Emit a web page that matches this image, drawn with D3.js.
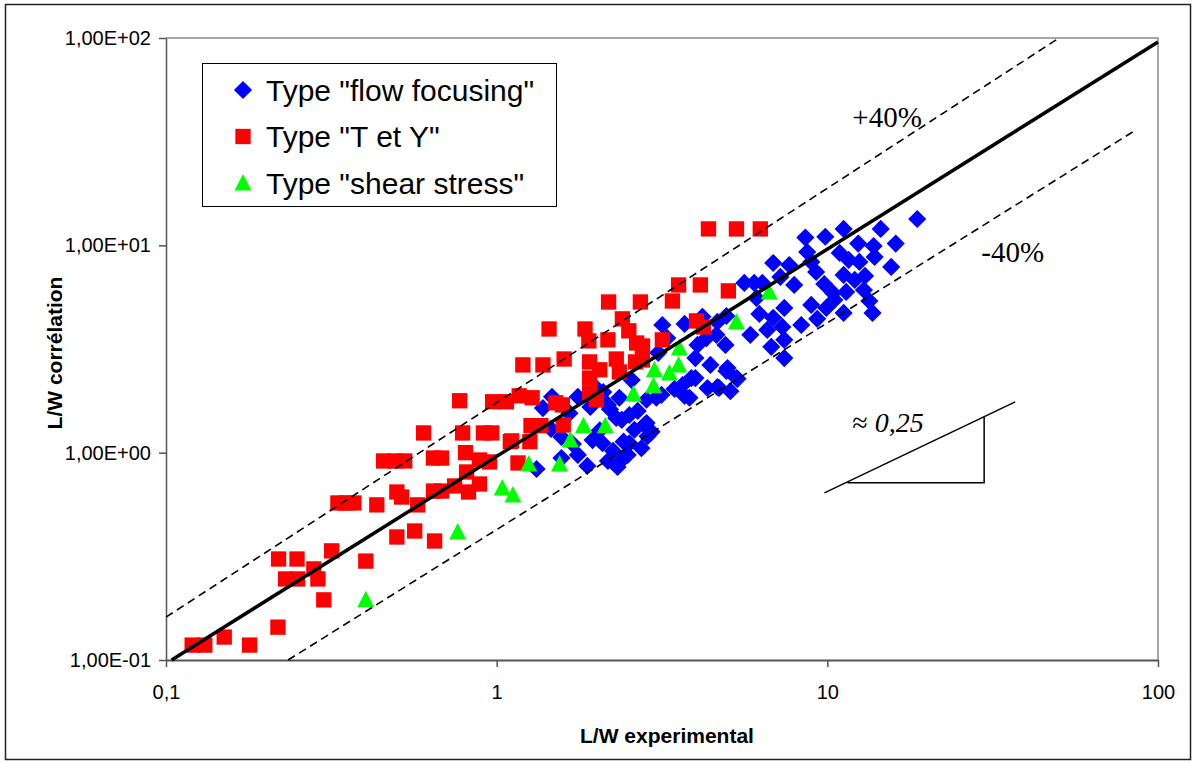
<!DOCTYPE html>
<html>
<head>
<meta charset="utf-8">
<script src="https://cdn.jsdelivr.net/npm/d3@7"></script>
<style>
  body { margin: 0; background: #fff; }
</style>
</head>
<body>
<div id="chart"></div>
<script>
// Data: [L/W experimental, L/W correlation]
const flowFocusing = [
  [18.7,13.4],[14.5,12.0],[11.2,12.0],[9.86,11.0],[8.58,10.9],[16.1,10.2],[13.8,9.93],[12.4,10.2],[13.9,8.79],[15.6,7.87],
  [10.9,9.19],[11.6,8.51],[12.5,8.32],[11.2,7.20],[12.1,6.81],[13.0,7.12],[8.69,9.29],[8.94,8.32],[7.67,8.04],[9.25,7.44],
  [7.94,6.44],[9.79,6.51],[10.4,5.89],[11.4,5.96],[12.9,6.09],[13.4,5.39],[13.7,4.72],[11.2,4.72],[9.93,4.99],[8.94,5.16],
  [9.32,4.42],[8.34,4.13],[7.41,4.99],[10.5,5.45],[6.86,8.22],[7.21,7.04],[5.61,6.59],[6.01,6.59],[6.36,6.59],[6.10,5.57],
  [6.23,4.67],[6.86,4.47],[7.31,4.04],[6.58,3.91],[5.85,3.70],[4.95,4.56],[4.65,4.27],[4.19,4.52],[3.70,4.18],[3.17,4.13],
  [3.28,3.57],[4.62,3.70],[4.31,3.57],[4.92,3.31],[4.05,3.31],[3.99,2.86],[4.43,2.65],[4.99,2.56],[5.31,2.29],[6.77,3.24],
  [7.41,3.50],[7.41,2.86],[3.99,2.29],[4.34,2.05],[4.71,2.05],[5.09,1.98],[3.65,2.12],[3.70,1.88],[3.15,1.90],[2.84,1.80],
  [1.47,1.86],[1.76,1.86],[1.92,1.66],[2.17,1.70],[2.30,1.47],[2.35,1.84],[2.67,1.59],[2.80,1.36],[1.46,1.30],[1.57,1.19],
  [1.95,1.15],[2.09,1.11],[2.42,1.13],[2.49,0.975],[2.74,1.05],[1.76,0.975],[1.57,0.942],[1.88,0.863],[1.32,0.834],[2.17,0.912],
  [2.32,0.853],[3.08,3.03],[2.10,1.96],[2.56,2.24],[2.94,1.26],[4.95,2.48],[5.35,2.27],[3.88,2.29],[4.65,2.07],[3.83,1.84],
  [3.45,2.03],[3.04,1.84],[2.52,1.52],[2.61,1.29],[2.84,1.39],[2.86,1.20],[2.52,1.11],[2.39,0.922],[2.39,1.44],[1.38,1.64],
  [2.00,2.05],[2.20,1.62],[1.66,1.55],[2.05,1.28],[2.25,1.02],[1.70,1.10]
];

const tEtY = [
  [0.120,0.118],[0.131,0.118],[0.150,0.129],[0.179,0.118],[0.218,0.144],[0.219,0.307],[0.249,0.307],[0.230,0.246],
  [0.250,0.246],[0.280,0.275],[0.288,0.246],[0.300,0.195],[0.317,0.336],[0.601,1.245],[0.789,1.245],[0.912,1.245],
  [0.966,1.245],[1.11,1.14],[0.455,0.912],[0.492,0.912],[0.527,0.912],[0.644,0.942],[0.681,0.942],[0.805,1.0],
  [0.887,0.922],[0.951,0.902],[0.811,0.807],[0.331,0.572],[0.350,0.572],[0.370,0.572],[0.434,0.560],[0.499,0.646],
  [0.516,0.611],[0.577,0.560],[0.644,0.653],[0.681,0.653],[0.746,0.691],[0.822,0.646],[0.887,0.706],[0.499,0.392],
  [0.565,0.419],[0.649,0.375],[0.402,0.300],[0.773,1.78],[0.972,1.76],[1.07,1.76],[1.17,1.88],[1.28,1.84],
  [1.51,1.74],[1.58,1.70],[1.27,1.35],[1.36,1.35],[1.59,1.36],[1.10,1.13],[1.26,1.13],[1.16,0.892],
  [1.91,2.29],[1.91,1.94],[2.00,1.80],[2.18,5.33],[2.72,5.33],[1.44,3.95],[1.85,3.95],[2.40,4.42],
  [1.90,3.46],[2.17,3.50],[2.51,3.87],[2.65,3.38],[1.20,2.65],[1.38,2.65],[1.60,2.83],[1.91,2.74],
  [2.30,2.83],[2.63,2.74],[2.05,2.51],[2.35,2.45],[4.37,12.0],[5.31,12.0],[6.27,12.0],[3.55,6.44],
  [4.13,6.44],[5.02,6.03],[3.40,5.39],[4.02,4.32],[3.17,3.50],[2.76,3.27],[2.76,2.80],[4.22,4.04]
];

const shearStress = [
  [0.402,0.195],[0.762,0.414],[1.04,0.676],[1.12,0.625],[1.25,0.882],[1.55,0.882],[1.67,1.15],[1.83,1.35],
  [2.13,1.35],[2.59,1.92],[2.98,2.10],[3.00,2.51],[3.33,2.42],[3.55,2.65],[3.57,3.20],[5.31,4.27],[6.67,5.96]
];

// reference lines (end points)
const fitLine = [[0.104, 0.1], [100, 95.7]];
const plusLine = [[0.1, 0.161], [50.2, 100]];
const minusLine = [[0.234, 0.1], [85.9, 36.1]];
// slope sketch
const slopeHyp = [[9.8, 0.64], [37.0, 1.757]];
const slopeLegs = [[11.5, 0.715], [29.8, 0.715], [29.8, 1.49]];

const xTicks = [0.1, 1, 10, 100];
const yTicks = [0.1, 1, 10, 100];
const legendLabels = ['Type "flow focusing"', 'Type "T et Y"', 'Type "shear stress"'];
const colors = ["#0000ff", "#ff0000", "#00ff00"];

const sans = '"Liberation Sans", Arial, sans-serif';
const serif = '"Liberation Serif", "Times New Roman", serif';

const W = 1196, H = 762;
const x = d3.scaleLog().domain([0.1, 100]).range([166, 1158]);
const y = d3.scaleLog().domain([0.1, 100]).range([660, 38]);

const svg = d3.select("#chart").append("svg")
  .attr("width", W).attr("height", H)
  .attr("font-family", sans);

// outer frame
svg.append("rect")
  .attr("x", 5.5).attr("y", 4.5).attr("width", 1185).attr("height", 755)
  .attr("fill", "#fff").attr("stroke", "#222").attr("stroke-width", 1.5);

// plot frame (top and right)
svg.append("path")
  .attr("d", `M${x(0.1)},${y(100)}H${x(100)}V${y(0.1)}`)
  .attr("fill", "none").attr("stroke", "#8a8a8a").attr("stroke-width", 1.5);

const fmtX = d => String(d).replace(".", ",");
const fmtY = d => {
  const [m, e] = d.toExponential(2).split("e");
  const n = +e;
  return m.replace(".", ",") + "E" + (n < 0 ? "-" : "+") + String(Math.abs(n)).padStart(2, "0");
};

// x axis
svg.append("g")
  .attr("transform", `translate(0,${y(0.1)})`)
  .call(d3.axisBottom(x).tickValues(xTicks).tickFormat(fmtX).tickSize(7).tickPadding(18).tickSizeOuter(0))
  .attr("font-size", 20).attr("font-family", sans)
  .call(g => g.select(".domain").attr("stroke", "#555").attr("stroke-width", 2))
  .call(g => g.selectAll(".tick line").attr("stroke", "#555").attr("stroke-width", 1.5))
  .call(g => g.selectAll(".tick text").attr("fill", "#000"));

// y axis
svg.append("g")
  .attr("transform", `translate(${x(0.1)},0)`)
  .call(d3.axisLeft(y).tickValues(yTicks).tickFormat(fmtY).tickSize(7).tickPadding(8).tickSizeOuter(0))
  .attr("font-size", 20).attr("font-family", sans)
  .call(g => g.select(".domain").attr("stroke", "#555").attr("stroke-width", 1.5))
  .call(g => g.selectAll(".tick line").attr("stroke", "#555").attr("stroke-width", 1.5))
  .call(g => g.selectAll(".tick text").attr("fill", "#000"));

// axis titles
svg.append("text")
  .attr("x", 667).attr("y", 743)
  .attr("text-anchor", "middle").attr("font-weight", "bold").attr("font-size", 21)
  .text("L/W experimental");

svg.append("text")
  .attr("transform", "translate(62,353) rotate(-90)")
  .attr("text-anchor", "middle").attr("font-weight", "bold").attr("font-size", 21)
  .text("L/W corrélation");

// markers
const diamond = d3.symbol().type(d3.symbolSquare).size(165)();
const square = d3.symbol().type(d3.symbolSquare).size(235)();
const triangle = "M0,-9L8.5,7.5H-8.5Z";

const plot = svg.append("g");
plot.append("g").selectAll("path").data(flowFocusing).join("path")
  .attr("d", diamond)
  .attr("transform", d => `translate(${x(d[0])},${y(d[1])}) rotate(45)`)
  .attr("fill", colors[0]);

plot.append("g").selectAll("path").data(tEtY).join("path")
  .attr("d", square)
  .attr("transform", d => `translate(${x(d[0])},${y(d[1])})`)
  .attr("fill", colors[1]);

plot.append("g").selectAll("path").data(shearStress).join("path")
  .attr("d", triangle)
  .attr("transform", d => `translate(${x(d[0])},${y(d[1])})`)
  .attr("fill", colors[2]);

// reference lines
const line = d3.line().x(d => x(d[0])).y(d => y(d[1]));
svg.append("path").attr("d", line(plusLine))
  .attr("fill", "none").attr("stroke", "#000").attr("stroke-width", 1.6).attr("stroke-dasharray", "8,5");
svg.append("path").attr("d", line(minusLine))
  .attr("fill", "none").attr("stroke", "#000").attr("stroke-width", 1.6).attr("stroke-dasharray", "8,5");
svg.append("path").attr("d", line(fitLine))
  .attr("fill", "none").attr("stroke", "#000").attr("stroke-width", 3.5);

// slope sketch
svg.append("path").attr("d", line(slopeHyp))
  .attr("fill", "none").attr("stroke", "#000").attr("stroke-width", 1.5);
svg.append("path").attr("d", line(slopeLegs))
  .attr("fill", "none").attr("stroke", "#000").attr("stroke-width", 1.5);

// annotations
svg.append("text")
  .attr("x", x(11.9)).attr("y", y(37.2))
  .attr("font-family", serif).attr("font-size", 29)
  .text("+40%");
svg.append("text")
  .attr("x", x(29.2)).attr("y", y(8.3))
  .attr("font-family", serif).attr("font-size", 29)
  .text("-40%");
const slopeText = svg.append("text")
  .attr("x", x(11.9)).attr("y", y(1.26))
  .attr("font-family", serif).attr("font-size", 28);
slopeText.append("tspan").text("≈ ");
slopeText.append("tspan").attr("font-style", "italic").text("0,25");

// legend
const legend = svg.append("g");
legend.append("rect")
  .attr("x", 202.5).attr("y", 63.5).attr("width", 354).attr("height", 143)
  .attr("fill", "#fff").attr("stroke", "#000").attr("stroke-width", 1);
const shapes = [diamond, square, triangle];
legendLabels.forEach((lab, i) => {
  const cy = 90 + i * 46.5;
  legend.append("path")
    .attr("d", shapes[i])
    .attr("transform", `translate(243,${cy})` + (i === 0 ? " rotate(45)" : ""))
    .attr("fill", colors[i]);
  legend.append("text")
    .attr("x", 266).attr("y", cy).attr("dy", "0.36em")
    .attr("font-size", 30)
    .text(lab);
});
</script>
</body>
</html>
